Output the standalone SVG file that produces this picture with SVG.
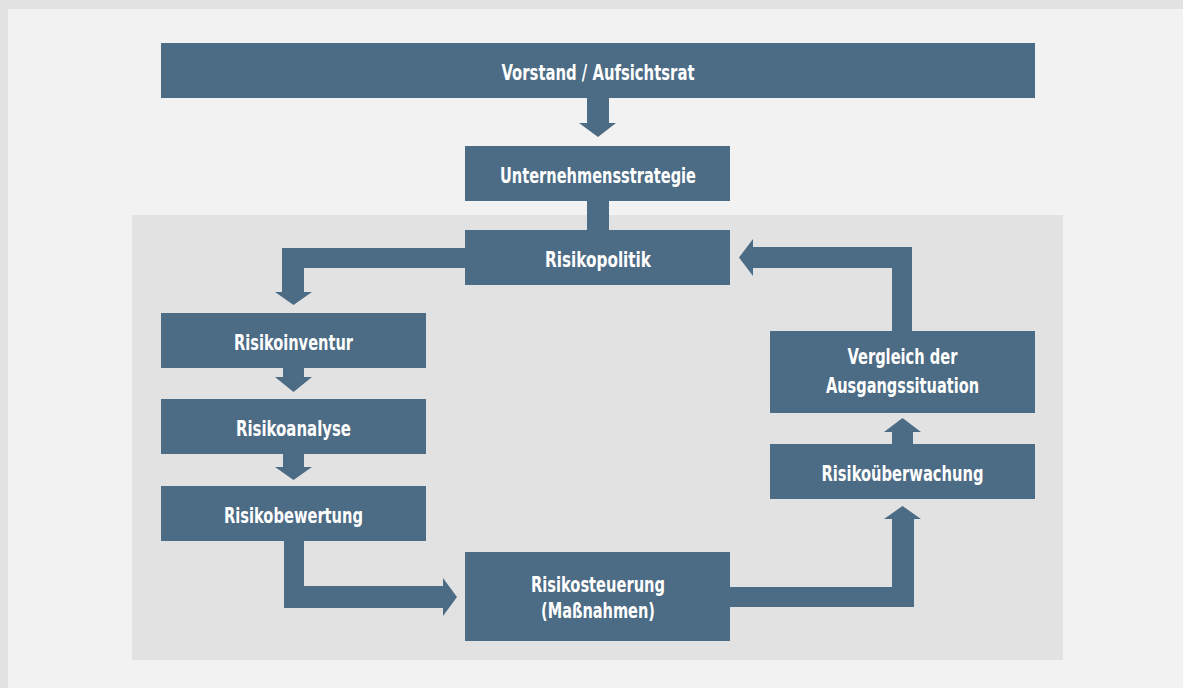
<svg xmlns="http://www.w3.org/2000/svg" width="1183" height="688" viewBox="0 0 1183 688">
<style>
.box{fill:#4c6b84}
.arr{fill:#4c6b84}
text{font-family:"DejaVu Sans Condensed","DejaVu Sans",sans-serif;font-weight:bold;font-size:21px;fill:#ffffff;text-anchor:middle}
</style>
<rect x="0" y="0" width="1183" height="688" fill="#e2e2e2"/>
<rect x="8" y="9" width="1175" height="679" fill="#f2f2f2"/>
<rect x="132" y="215" width="931" height="445" fill="#e2e2e2"/>
<g id="connectors">
<polygon class="arr" points="587,98 609,98 609,123 616,123 598,137 579,123 587,123"/>
<rect class="arr" x="587" y="201" width="22" height="29"/>
<polygon class="arr" points="465,248 282,248 282,292 275,292 293.5,305 312,292 304,292 304,268 465,268"/>
<polygon class="arr" points="283,368 304,368 304,377 312,377 293.5,392 275,377 283,377"/>
<polygon class="arr" points="283,454 304,454 304,467 312,467 293.5,480 275,467 283,467"/>
<polygon class="arr" points="284,541 284,608 443,608 443,616 457,597 443,578 443,586 304,586 304,541"/>
<polygon class="arr" points="730,587 730,607 914,607 914,519 921,519 902.5,506 884,519 892,519 892,587"/>
<polygon class="arr" points="892,444 913,444 913,432 921,432 902.5,418 884,432 892,432"/>
<polygon class="arr" points="892,331 892,268 753,268 753,276 739,257.5 753,239 753,247 912,247 912,331"/>
</g>
<g id="vorstand"><rect class="box" x="161" y="43" width="874" height="55"/><text x="598" y="80" textLength="193" lengthAdjust="spacingAndGlyphs">Vorstand / Aufsichtsrat</text></g>
<g id="strategie"><rect class="box" x="465" y="146" width="265" height="55"/><text x="598" y="183" textLength="196" lengthAdjust="spacingAndGlyphs">Unternehmensstrategie</text></g>
<g id="politik"><rect class="box" x="465" y="230" width="265" height="55"/><text x="598" y="267" textLength="106" lengthAdjust="spacingAndGlyphs">Risikopolitik</text></g>
<g id="inventur"><rect class="box" x="161" y="313" width="265" height="55"/><text x="293.5" y="350" textLength="119" lengthAdjust="spacingAndGlyphs">Risikoinventur</text></g>
<g id="analyse"><rect class="box" x="161" y="399" width="265" height="55"/><text x="293.5" y="436" textLength="115" lengthAdjust="spacingAndGlyphs">Risikoanalyse</text></g>
<g id="bewertung"><rect class="box" x="161" y="486" width="265" height="55"/><text x="293.5" y="523" textLength="139" lengthAdjust="spacingAndGlyphs">Risikobewertung</text></g>
<g id="steuerung"><rect class="box" x="465" y="552" width="265" height="89"/><text x="598" y="592" textLength="134" lengthAdjust="spacingAndGlyphs">Risikosteuerung</text><text x="598" y="618" textLength="114" lengthAdjust="spacingAndGlyphs">(Maßnahmen)</text></g>
<g id="ueberwachung"><rect class="box" x="770" y="444" width="265" height="55"/><text x="902.5" y="481" textLength="162" lengthAdjust="spacingAndGlyphs">Risikoüberwachung</text></g>
<g id="vergleich"><rect class="box" x="770" y="331" width="265" height="82"/><text x="902.5" y="364" textLength="110" lengthAdjust="spacingAndGlyphs">Vergleich der</text><text x="902.5" y="393" textLength="153" lengthAdjust="spacingAndGlyphs">Ausgangssituation</text></g>
</svg>
